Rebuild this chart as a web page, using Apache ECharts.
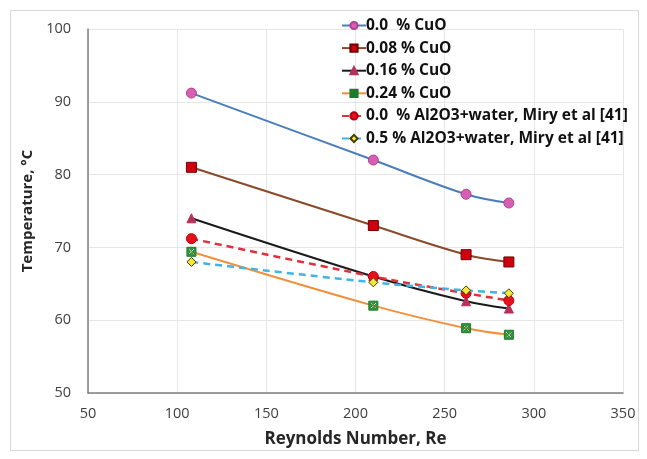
<!DOCTYPE html>
<html>
<head>
<meta charset="utf-8">
<script src="https://cdn.jsdelivr.net/npm/echarts@6/dist/echarts.min.js"></script>
<style>
html,body{margin:0;padding:0;background:#fff;}
#frame{position:absolute;left:10px;top:10px;width:629px;height:441px;border:1px solid #d9d9d9;box-sizing:border-box;}
#chart{position:absolute;left:0;top:0;width:647px;height:459px;}
</style>
</head>
<body>
<div id="frame"></div>
<div id="chart"></div>
<script>
const reynolds = [108, 210, 262, 286];
const seriesNames = [
  '0.0  % CuO',
  '0.08 % CuO',
  '0.16 % CuO',
  '0.24 % CuO',
  '0.0  % Al2O3+water, Miry et al [41]',
  '0.5 % Al2O3+water, Miry et al [41]'
];
const cuo000 = [91.2, 82.0, 77.3, 76.1];
const cuo008 = [81.0, 73.0, 69.0, 68.0];
const cuo016 = [74.0, 66.0, 62.6, 61.6];
const cuo024 = [69.4, 62.0, 58.9, 58.0];
const al000 = [71.2, 66.0, 63.7, 62.7];
const al050 = [68.0, 65.2, 64.1, 63.7];
const xTicks = [50, 100, 150, 200, 250, 300, 350];
const yTicks = [50, 60, 70, 80, 90, 100];

const pair = v => reynolds.map((x, i) => [x, v[i]]);

const xMark = 'path://M0,0L10,0L10,10L0,10Z M4,5L1.5,7.5L2.5,8.5L5,6L7.5,8.5L8.5,7.5L6,5L8.5,2.5L7.5,1.5L5,4L2.5,1.5L1.5,2.5Z';

const styles = [
  {data: cuo000, line: '#4a7ebb', type: 'solid', sym: 'circle', size: 10, fill: '#d65fb4', border: '#b04090'},
  {data: cuo008, line: '#8a4a2a', type: 'solid', sym: 'rect', size: 10, fill: '#d00010', border: '#700000'},
  {data: cuo016, line: '#1a1a1a', type: 'solid', sym: 'triangle', size: 9, fill: '#b8305a', border: '#b8305a'},
  {data: cuo024, line: '#f0903c', type: 'solid', sym: xMark, size: 9, fill: '#2e9a3c', border: '#1e7a2c'},
  {data: al000, line: '#e0303c', type: [7, 5], sym: 'circle', size: 10, fill: '#e8101c', border: '#b00010'},
  {data: al050, line: '#40b4e4', type: [7, 5], sym: 'diamond', size: 9, fill: '#f2e83a', border: '#404000'}
];

const FONT = 'Open Sans';
const chart = echarts.init(document.getElementById('chart'), null, {renderer: 'canvas'});
chart.setOption({
  animation: false,
  backgroundColor: 'transparent',
  grid: {left: 88, right: 24, top: 29, bottom: 66, containLabel: false},
  legend: {
    orient: 'vertical',
    left: 336,
    top: 12,
    itemWidth: 24,
    itemHeight: 9,
    itemGap: 5.6,
    textStyle: {fontFamily: FONT, fontWeight: 'bold', fontSize: 15.5, color: '#111', lineHeight: 17, padding: [0, 0, 0, -5]},
    data: seriesNames
  },
  xAxis: {
    type: 'value', min: 50, max: 350, interval: 50,
    name: 'Reynolds Number, Re', nameLocation: 'middle', nameGap: 38,
    nameTextStyle: {fontFamily: FONT, fontWeight: 'bold', fontSize: 17, color: '#262626'},
    axisLine: {show: true, lineStyle: {color: '#7f7f7f', width: 1.5}},
    axisTick: {show: false},
    axisLabel: {fontFamily: FONT, fontSize: 14.5, color: '#404040', margin: 13,
      formatter: v => xTicks.includes(v) ? String(v) : ''},
    splitLine: {show: true, lineStyle: {color: '#e6e6e6', width: 1}}
  },
  yAxis: {
    type: 'value', min: 50, max: 100, interval: 10,
    name: 'Temperature, °C', nameLocation: 'middle', nameGap: 51,
    nameTextStyle: {fontFamily: FONT, fontWeight: 'bold', fontSize: 15, color: '#262626'},
    axisLine: {show: true, lineStyle: {color: '#7f7f7f', width: 1.5}},
    axisTick: {show: false},
    axisLabel: {fontFamily: FONT, fontSize: 14.5, color: '#404040', margin: 17,
      formatter: v => yTicks.includes(v) ? String(v) : ''},
    splitLine: {show: true, lineStyle: {color: '#e6e6e6', width: 1}}
  },
  series: styles.map((s, i) => ({
    name: seriesNames[i],
    type: 'line',
    data: pair(s.data),
    smooth: 0.35,
    symbol: s.sym,
    symbolSize: s.size,
    showSymbol: true,
    lineStyle: {color: s.line, width: i >= 4 ? 2.5 : 2, type: s.type},
    itemStyle: {color: s.fill, borderColor: s.border, borderWidth: 1},
    z: 2 + i
  }))
});
</script>
</body>
</html>
